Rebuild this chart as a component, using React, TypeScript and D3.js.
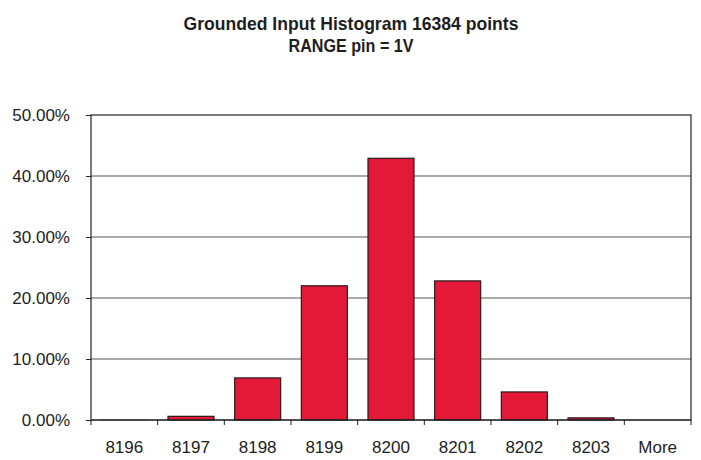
import { useEffect, useRef } from "react";
import * as d3 from "d3";

// histogram bins and their share of the 16384 samples (percent)
const bins = ["8196", "8197", "8198", "8199", "8200", "8201", "8202", "8203", "More"];
const percents = [0.02, 0.6, 6.9, 22.0, 42.9, 22.8, 4.6, 0.35, 0];
const yTicks = [0, 10, 20, 30, 40, 50];
const titleLines = ["Grounded Input Histogram 16384 points", "RANGE pin = 1V"];
const titleWidths = [335, 125]; // condensed face in the original, squeeze to match

const FONT = "'Liberation Sans', Arial, sans-serif";

export default function App() {
    const ref = useRef<SVGSVGElement>(null);

    useEffect(() => {
        const svg = d3.select(ref.current);
        svg.selectAll("*").remove();

        const width = 701;
        const height = 460;
        const margin = { top: 115, right: 10, bottom: 40, left: 91 };

        const x = d3.scaleBand()
            .domain(bins)
            .range([margin.left, width - margin.right])
            .paddingInner(0.31)
            .paddingOuter(0.155);

        const y = d3.scaleLinear()
            .domain([0, 50])
            .range([height - margin.bottom, margin.top]);

        // title
        svg.append("g")
            .selectAll("text")
            .data(titleLines)
            .join("text")
            .attr("x", 351)
            .attr("y", (d, i) => 30 + i * 22)
            .attr("text-anchor", "middle")
            .attr("textLength", (d, i) => titleWidths[i])
            .attr("lengthAdjust", "spacingAndGlyphs")
            .style("font-family", FONT)
            .style("font-size", "19px")
            .style("font-weight", "bold")
            .style("fill", "#1e1e1e")
            .text(d => d);

        // horizontal gridlines
        svg.append("g")
            .selectAll("line")
            .data(yTicks.filter(t => t > 0 && t < 50))
            .join("line")
            .attr("x1", margin.left)
            .attr("x2", width - margin.right)
            .attr("y1", d => y(d))
            .attr("y2", d => y(d))
            .attr("stroke", "#555")
            .attr("stroke-width", 1);

        // bars
        svg.append("g")
            .selectAll("rect")
            .data(percents)
            .join("rect")
            .attr("x", (d, i) => x(bins[i])!)
            .attr("width", x.bandwidth())
            .attr("y", d => y(d))
            .attr("height", d => y(0) - y(d))
            .attr("fill", "#e31937")
            .attr("stroke", d => (d > 0.1 ? "#2a1a1a" : "#e8a0aa"))
            .attr("stroke-width", d => (d > 0.1 ? 1.2 : 0.8));

        // plot frame
        svg.append("rect")
            .attr("x", margin.left)
            .attr("y", margin.top)
            .attr("width", width - margin.right - margin.left)
            .attr("height", y(0) - margin.top)
            .attr("fill", "none")
            .attr("stroke", "#222")
            .attr("stroke-width", 1.2);

        // y axis
        svg.append("g")
            .attr("transform", `translate(${margin.left},0)`)
            .call(d3.axisLeft(y).tickValues(yTicks).tickSize(5).tickPadding(16).tickFormat(d => (d as number).toFixed(2) + "%"))
            .call(g => g.select(".domain").remove())
            .call(g => g.selectAll("line").attr("stroke", "#222"))
            .call(g => g.selectAll("text")
                .style("font-family", FONT)
                .style("font-size", "17px")
                .style("fill", "#222"));

        // x axis: ticks sit on band boundaries, labels in band centres
        const step = x.step();
        const bounds = d3.range(bins.length + 1).map(i => margin.left + i * step);
        const xa = svg.append("g");
        xa.append("line")
            .attr("x1", margin.left)
            .attr("x2", width - margin.right)
            .attr("y1", y(0))
            .attr("y2", y(0))
            .attr("stroke", "#222")
            .attr("stroke-width", 1.2);
        xa.selectAll("line.tick")
            .data(bounds)
            .join("line")
            .attr("class", "tick")
            .attr("x1", d => d)
            .attr("x2", d => d)
            .attr("y1", y(0))
            .attr("y2", y(0) + 5)
            .attr("stroke", "#222");
        xa.selectAll("text")
            .data(bins)
            .join("text")
            .attr("x", d => x(d)! + x.bandwidth() / 2)
            .attr("y", 453)
            .attr("text-anchor", "middle")
            .style("font-family", FONT)
            .style("font-size", "17px")
            .style("fill", "#222")
            .text(d => d);
    }, []);

    return (
        <svg
            ref={ref}
            width={701}
            height={460}
            style={{ position: "absolute", left: 0, top: 0, background: "#fff" }}
        ></svg>
    );
}
